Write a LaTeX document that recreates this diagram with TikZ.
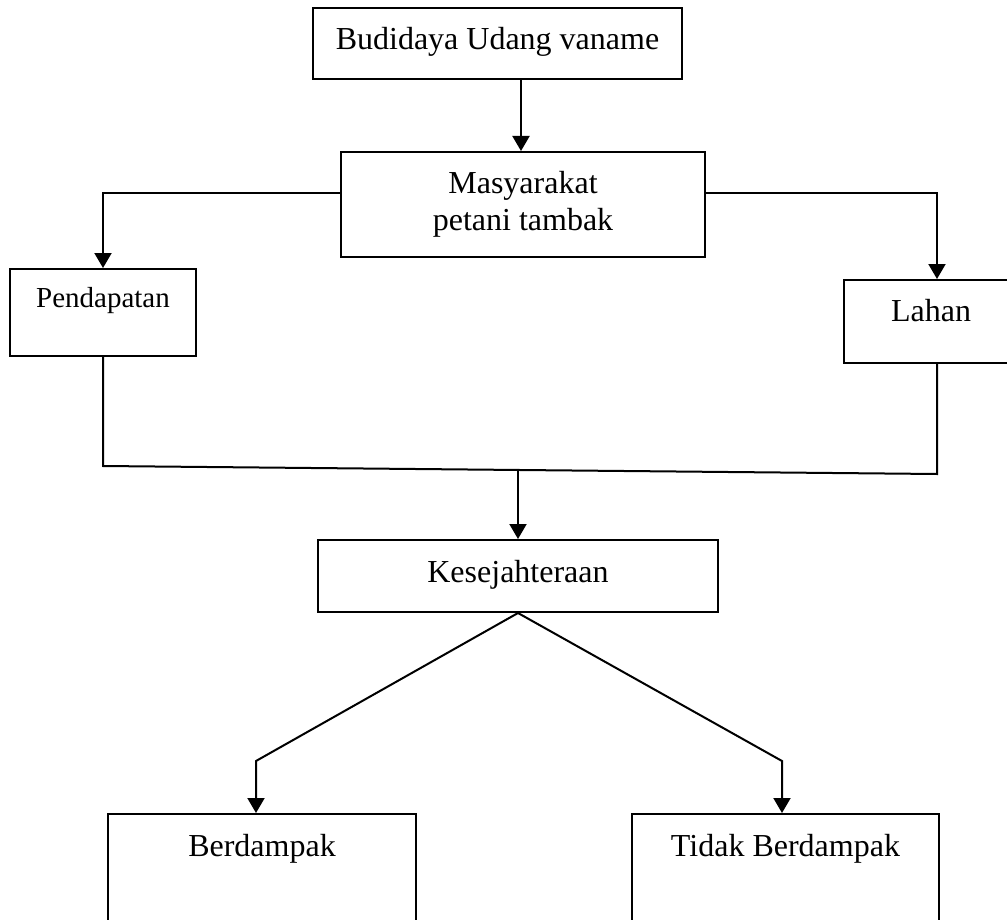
\documentclass[tikz,border=0pt]{standalone}
\usepackage{fontspec}
\setmainfont{Liberation Serif}
\usetikzlibrary{arrows.meta}

\begin{document}
\begin{tikzpicture} [x=0.5pt, y=-0.5pt, line width=1pt,
    box/.style={draw, rectangle, inner sep=0pt, anchor=base, font=\fontsize{16}{15.5}\selectfont},
    arr/.style={-{Triangle[width=8.5pt,length=7.5pt]}}]
  \useasboundingbox (0,0) rectangle (1007,920);
  \path  (497.5,50)   node[box, text height=21pt, text depth=14.5pt, minimum width=184.5pt] (bud) {Budidaya Udang vaname}
         (523,204.5)  node[box, anchor=center, align=center, font=\fontsize{16}{18.5}\selectfont, minimum width=182pt, minimum height=52.5pt] (mas) {Masyarakat\\petani tambak}
         (103,307)    node[box, font=\fontsize{14.5}{16}\selectfont, text height=19pt, text depth=24.5pt, minimum width=93pt] (pend) {Pendapatan}
         (931,321)    node[box, text height=20.5pt, text depth=21pt, minimum width=87pt] (lahan) {Lahan}
         (518,582)    node[box, text height=21pt, text depth=15pt, minimum width=200pt] (kes) {Kesejahteraan}
         (262,856)    node[box, text height=21pt, text depth=37pt, minimum width=154pt] (ber) {Berdampak}
         (785.5,856)  node[box, text height=21pt, text depth=37pt, minimum width=153.5pt] (tber) {Tidak Berdampak};
  \coordinate (lowL) at (105,466);
  \coordinate (lowR) at (937,474);
  \coordinate (mid) at (518,470);
  \coordinate (kinkL) at (256,761);
  \coordinate (kinkR) at (782,761);

    \draw [arr] ([xshift=-1pt]bud.south -| mas.north) to ([xshift=-1pt]mas.north);
    \draw [arr] ([yshift=5.75pt]mas.west) -| (pend.north);
    \draw [arr] ([yshift=5.75pt]mas.east) -| ([xshift=3pt]lahan.north);
    \draw [-] (pend.south) -- (pend.south |- lowL) -- (lowR) -- ([xshift=3pt]lahan.south);
    \draw [arr] (mid) to (kes.north);
    \draw [arr] (kes.south) -- (kinkL) -- (kinkL |- ber.north);
    \draw [arr] (kes.south) -- (kinkR) -- (kinkR |- tber.north);

\end{tikzpicture}
\end{document}
